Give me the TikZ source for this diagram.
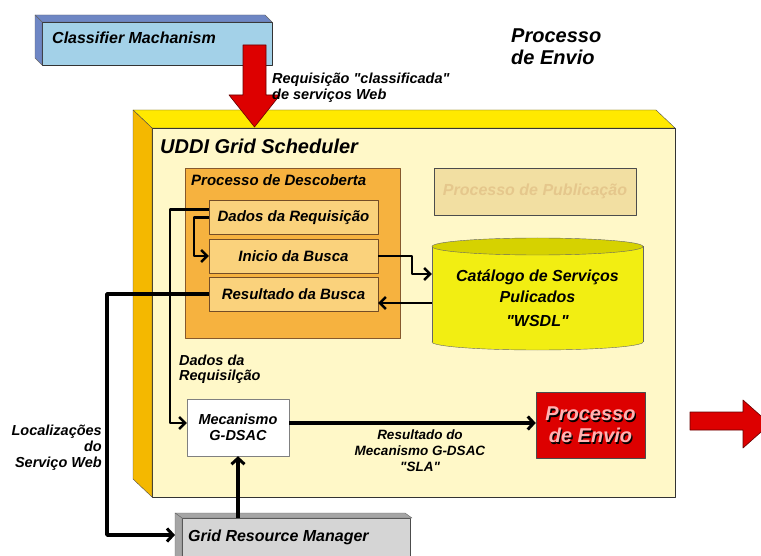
\documentclass[tikz,border=0pt]{standalone}
\usepackage{fontspec}
\setmainfont{Liberation Sans}
\usetikzlibrary{arrows.meta}
\definecolor{clsface}{HTML}{A3D1E8}
\definecolor{clsside}{HTML}{6E86C4}
\definecolor{uddiface}{HTML}{FFF8C8}
\definecolor{udditop}{HTML}{FFE900}
\definecolor{uddileft}{HTML}{F4B800}
\definecolor{descfill}{HTML}{F6B23F}
\definecolor{innerfill}{HTML}{FAD27C}
\definecolor{pubfill}{HTML}{F2DFA2}
\definecolor{pubtext}{HTML}{E5C78C}
\definecolor{cylfill}{HTML}{F2EE12}
\definecolor{cyltop}{HTML}{D6D200}
\definecolor{envred}{HTML}{DD0000}
\definecolor{grmface}{HTML}{D5D5D5}
\definecolor{grmside}{HTML}{A5A5A5}
\begin{document}
\begin{tikzpicture}[x=1pt,y=-1pt,line join=round,
  f13/.style={inner sep=0pt,font=\bfseries\itshape\fontsize{13.5}{16}\selectfont},
  f14/.style={inner sep=0pt,font=\bfseries\itshape\fontsize{14.5}{16}\selectfont},
  f15/.style={inner sep=0pt,font=\bfseries\itshape\fontsize{15}{18}\selectfont},
  f16/.style={inner sep=0pt,font=\bfseries\itshape\fontsize{16}{21}\selectfont},
  f20/.style={inner sep=0pt,font=\bfseries\itshape\fontsize{20}{22}\selectfont},
  box/.style={draw=brown!60!black,fill=innerfill,minimum width=169pt,minimum height=34pt,f15},
  link/.style={line width=2.4pt,-{Straight Barb[length=6pt,width=12pt,line width=2.4pt]}},
  heavy/.style={line width=3.6pt,-{Straight Barb[length=6pt,width=13pt,line width=3pt]}},
  blockarrow/.style={fill=envred,draw=red!40!black,line width=0.6pt}]
\clip (0,0) rectangle (761,556);
\fill[white] (0,0) rectangle (761,556);

\node[draw=black!80,fill=clsface,minimum width=230pt,minimum height=43pt,anchor=north west] (cls) at (42,22) {};
\fill[clsside,draw=black!60] (35,15) -- (265,15) -- (272,22) -- (42,22) -- cycle;
\fill[clsside,draw=black!60] (35,15) -- (42,22) -- (42,65) -- (35,58) -- cycle;
\node[f16,anchor=base west] (clstxt) at (52,44) {Classifier Machanism};

\node[draw=black!80,line width=0.8pt,fill=uddiface,minimum width=523pt,minimum height=369pt,anchor=north west] (uddi) at (152,128) {};
\fill[udditop,draw=black!70] (152,128) -- (133,110) -- (656,110) -- (675,128) -- cycle;
\fill[uddileft,draw=black!70] (152,128) -- (133,110) -- (133,479) -- (152,497) -- cycle;
\draw[blockarrow] (243,45) -- (266,45) -- (266,95) -- (280,95) -- (254.5,127) -- (229,95) -- (243,95) -- cycle;
\node[f20,anchor=base west] (uddtxt) at (160,154) {UDDI Grid Scheduler};
\node[f14,anchor=base west,align=left] (reqtxt) at (272,100) {Requisição \textquotedbl classificada\textquotedbl\\de serviços Web};
\node[f20,anchor=base west,align=left] (envtop) at (511,65) {Processo\\de Envio};

\node[draw=brown!70!black,fill=descfill,minimum width=215pt,minimum height=170pt,anchor=north west] (desc) at (185,168) {};
\node[f15,anchor=base west] (desctxt) at (191,186) {Processo de Descoberta};
\node[box] (dad) at (293.5,217.5) {Dados da Requisição};
\node[box] (ini) at (293.5,256) {Inicio da Busca};
\node[box] (res) at (293.5,294) {Resultado da Busca};

\node[draw=black!70,fill=pubfill,minimum width=202pt,minimum height=47pt,text=pubtext,f16] (pub) at (535,191.5) {Processo de Publicação};

\filldraw[fill=cylfill,draw=black!60] (537.5,342) ellipse [x radius=105.5,y radius=8];
\fill[cylfill] (432,246.5) rectangle (643,342);
\draw[black!60] (432,246.5) -- (432,342) (643,246.5) -- (643,342);
\filldraw[fill=cyltop,draw=black!60] (537.5,246.5) ellipse [x radius=105.5,y radius=8.5];
\node[minimum width=211pt,minimum height=96pt,f16,align=center] (db) at (537.5,298) {Catálogo de Serviços\\Pulicados\\[3pt]\textquotedbl WSDL\textquotedbl};

\node[draw=black!50,fill=white,minimum width=102pt,minimum height=57pt,align=center,f14] (mec) at (238,427.5) {Mecanismo\\G-DSAC};
\node[draw=black!70,fill=envred,minimum width=109pt,minimum height=66pt] (env) at (590.5,425) {};
\node[f20,align=center,text=black] at ([shift={(1.3,1.3)}]env.center) {Processo\\de Envio};
\node[f20,align=center,text=red!30!white] (envtxt) at (env.center) {Processo\\de Envio};

\node[f14,anchor=base west,align=left] (dadtxt) at (179,381) {Dados da\\Requisilção};
\node[f14,anchor=north east,align=right] (loctxt) at (102,425) {Localizações\\do\\Serviço Web};
\node[f13,anchor=north,align=center] (slatxt) at (420,430) {Resultado do\\Mecanismo G-DSAC\\\textquotedbl SLA\textquotedbl};

\draw[link] (dad.west) -- ++(-15,0) |- (ini.west);
\draw[link] ([yshift=8pt]dad.west) -| (170,423) -- (mec.west |- 0,423);
\draw[link] (ini.east) -- (412,256) |- (db.west |- 0,274);
\draw[link] (db.west |- 0,303) -- (res.east |- 0,303);
\draw[heavy] (res.west) -| (107,535) -- (175,535);
\draw[heavy] ([yshift=4.5pt]mec.east) -- (env.west |- 0,423);

\node[draw=black!70,fill=grmface,minimum width=228pt,minimum height=50pt,anchor=north west] (grm) at (182,518) {};
\fill[grmside,draw=black!60] (175,513) -- (405,513) -- (412,518) -- (182,518) -- cycle;
\fill[grmside,draw=black!60] (175,513) -- (182,518) -- (182,570) -- (175,565) -- cycle;
\node[f16,anchor=base west] (grmtxt) at (188,541) {Grid Resource Manager};
\draw[heavy] (mec.south |- grm.north) -- (mec.south);

\draw[blockarrow] (690,412) -- (743,412) -- (743,400) -- (770,424) -- (743,448) -- (743,430) -- (690,430) -- cycle;
\end{tikzpicture}
\end{document}
